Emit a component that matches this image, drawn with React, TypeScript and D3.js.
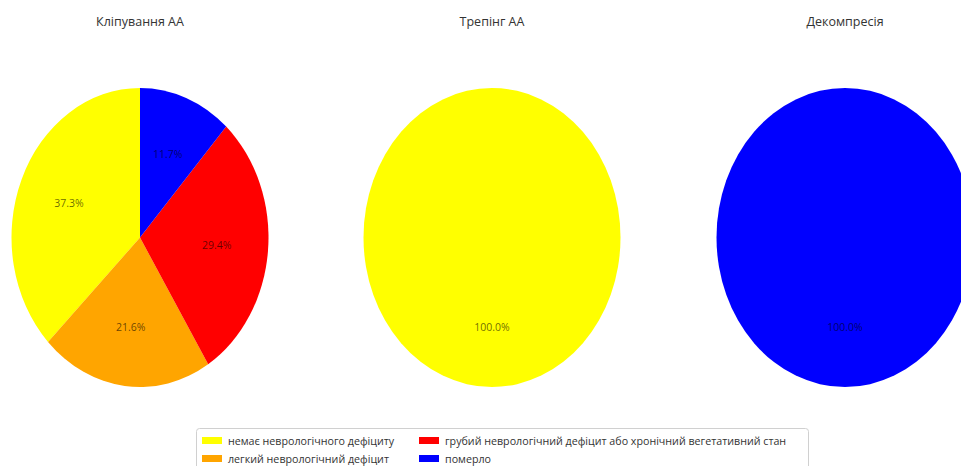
import React from "react";
import * as d3 from "d3";

const categories = [
  "немає неврологічного дефіциту",
  "легкий неврологічний дефіцит",
  "грубий неврологічний дефіцит або хронічний вегетативний стан",
  "померло",
];
const colors = ["#ffff00", "#ffa500", "#ff0000", "#0000ff"];

const titles = ["Кліпування АА", "Трепінг АА", "Декомпресія"];
const clippingValues = [37.3, 21.6, 29.4, 11.7];
const trappingValues = [100, 0, 0, 0];
const decompressionValues = [0, 0, 0, 100];
const seriesValues = [clippingValues, trappingValues, decompressionValues];

const W = 961;
const H = 466;
const centersX = [140, 492, 845];
const cy = 237.5;
const rx = 128.5;
const ry = 149.5;
const R = 100;

const pie = d3
  .pie<number>()
  .sort(null)
  .startAngle(0)
  .endAngle(-2 * Math.PI)
  .value((d) => d);
const arc = d3.arc<d3.PieArcDatum<number>>().innerRadius(0).outerRadius(R);

const font = "'Open Sans', 'DejaVu Sans', sans-serif";

export default function App() {
  const legendItems = [
    { i: 0, x: 199, y: 441 },
    { i: 1, x: 199, y: 459 },
    { i: 2, x: 416, y: 441 },
    { i: 3, x: 416, y: 459 },
  ];
  return (
    <svg
      width={W}
      height={H}
      style={{ position: "absolute", left: 0, top: 0, background: "#fff" }}
      fontFamily={font}
    >
      {seriesValues.map((vals, k) => {
        const arcs = pie(vals).filter((a) => a.value > 0);
        const cx = centersX[k];
        return (
          <g key={k}>
            <text
              x={cx}
              y={26}
              textAnchor="middle"
              fontSize={12.5}
              fill="#333"
            >
              {titles[k]}
            </text>
            <g transform={`translate(${cx},${cy}) scale(${rx / R},${ry / R})`}>
              {arcs.map((a, j) => (
                <path key={j} d={arc(a) ?? ""} fill={colors[a.index]} />
              ))}
            </g>
            {arcs.map((a, j) => {
              const mid = (a.startAngle + a.endAngle) / 2;
              const lx = cx + Math.sin(mid) * 0.6 * rx;
              const ly = cy - Math.cos(mid) * 0.6 * ry;
              return (
                <text
                  key={j}
                  x={lx}
                  y={ly}
                  textAnchor="middle"
                  dominantBaseline="central"
                  fontSize={10.5}
                  fill="#000"
                  fillOpacity={0.6}
                >
                  {a.value.toFixed(1)}%
                </text>
              );
            })}
          </g>
        );
      })}
      <rect
        x={196.5}
        y={428.5}
        width={612}
        height={45}
        rx={3}
        fill="#fff"
        stroke="#d0d0d0"
      />
      {legendItems.map(({ i, x, y }) => (
        <g key={i}>
          <rect x={x + 3} y={y - 4} width={20} height={7} fill={colors[i]} />
          <text
            x={x + 29}
            y={y}
            dominantBaseline="central"
            fontSize={10.7}
            fill="#333"
          >
            {categories[i]}
          </text>
        </g>
      ))}
    </svg>
  );
}
